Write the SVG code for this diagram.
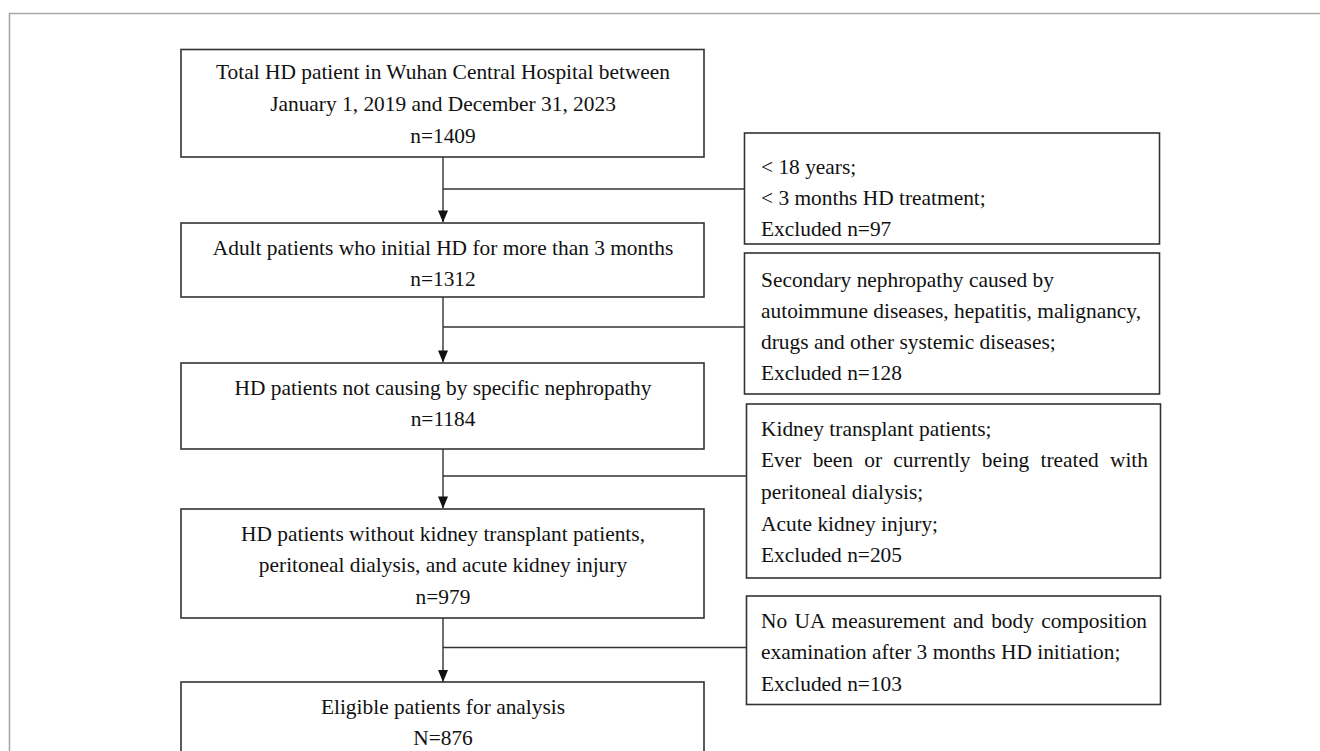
<svg xmlns="http://www.w3.org/2000/svg" width="1320" height="751" viewBox="0 0 1320 751">
<defs>
<style>
.frame{fill:none;stroke:#a8a8a8;stroke-width:1.6}
.box{fill:#fff;stroke:#333;stroke-width:1.6}
.conn{fill:none;stroke:#333;stroke-width:1.4}
text{font-family:"Liberation Serif","Times New Roman",serif;font-size:21.4px;fill:#111}
.c{text-anchor:middle}
</style>
</defs>
<rect width="1320" height="751" fill="#fff"/>
<path class="frame" d="M9.5,751 L9.5,13.5 L1320,13.5"/>

<g id="connectors">
<line class="conn" x1="443" y1="157" x2="443" y2="222"/>
<path d="M438,210.5 L448,210.5 L443,222.5 Z" fill="#111"/>
<line class="conn" x1="443" y1="189" x2="745" y2="189"/>

<line class="conn" x1="443" y1="297" x2="443" y2="362"/>
<path d="M438,350.5 L448,350.5 L443,362.5 Z" fill="#111"/>
<line class="conn" x1="443" y1="327" x2="745" y2="327"/>

<line class="conn" x1="443" y1="449" x2="443" y2="508"/>
<path d="M438,496.5 L448,496.5 L443,508.5 Z" fill="#111"/>
<line class="conn" x1="443" y1="476" x2="747" y2="476"/>

<line class="conn" x1="443" y1="618" x2="443" y2="682"/>
<path d="M438,670 L448,670 L443,682 Z" fill="#111"/>
<line class="conn" x1="443" y1="647.5" x2="747" y2="647.5"/>
</g>

<g id="n1">
<rect class="box" x="181" y="49.5" width="523" height="107.5"/>
<text class="c" x="443" y="79">Total HD patient in Wuhan Central Hospital between</text>
<text class="c" x="443" y="111">January 1, 2019 and December 31, 2023</text>
<text class="c" x="443" y="142.5">n=1409</text>
</g>

<g id="n2">
<rect class="box" x="181" y="223" width="523" height="74"/>
<text class="c" x="443" y="254.5">Adult patients who initial HD for more than 3 months</text>
<text class="c" x="443" y="286">n=1312</text>
</g>

<g id="n3">
<rect class="box" x="181" y="363" width="523" height="86"/>
<text class="c" x="443" y="394.5">HD patients not causing by specific nephropathy</text>
<text class="c" x="443" y="426">n=1184</text>
</g>

<g id="n4">
<rect class="box" x="181" y="509" width="523" height="109"/>
<text class="c" x="443" y="540.5">HD patients without kidney transplant patients,</text>
<text class="c" x="443" y="572">peritoneal dialysis, and acute kidney injury</text>
<text class="c" x="443" y="603.5">n=979</text>
</g>

<g id="n5">
<rect class="box" x="181" y="682" width="523" height="90"/>
<text class="c" x="443" y="714">Eligible patients for analysis</text>
<text class="c" x="443" y="745">N=876</text>
</g>

<g id="e1">
<rect class="box" x="744.5" y="133" width="415" height="111"/>
<text x="761" y="173.5">&lt; 18 years;</text>
<text x="761" y="204.5">&lt; 3 months HD treatment;</text>
<text x="761" y="235.5">Excluded n=97</text>
</g>

<g id="e2">
<rect class="box" x="744.5" y="253" width="415" height="141"/>
<text x="761" y="287">Secondary nephropathy caused by</text>
<text x="761" y="318">autoimmune diseases, hepatitis, malignancy,</text>
<text x="761" y="349">drugs and other systemic diseases;</text>
<text x="761" y="380">Excluded n=128</text>
</g>

<g id="e3">
<rect class="box" x="746.5" y="404" width="414" height="174"/>
<text x="761" y="435.5">Kidney transplant patients;</text>
<text x="761" y="467" word-spacing="5.9">Ever been or currently being treated with</text>
<text x="761" y="498.5">peritoneal dialysis;</text>
<text x="761" y="530.5">Acute kidney injury;</text>
<text x="761" y="562">Excluded n=205</text>
</g>

<g id="e4">
<rect class="box" x="746.5" y="596" width="414" height="108.5"/>
<text x="761" y="627.5" word-spacing="2">No UA measurement and body composition</text>
<text x="761" y="658.5">examination after 3 months HD initiation;</text>
<text x="761" y="690.5">Excluded n=103</text>
</g>
</svg>
